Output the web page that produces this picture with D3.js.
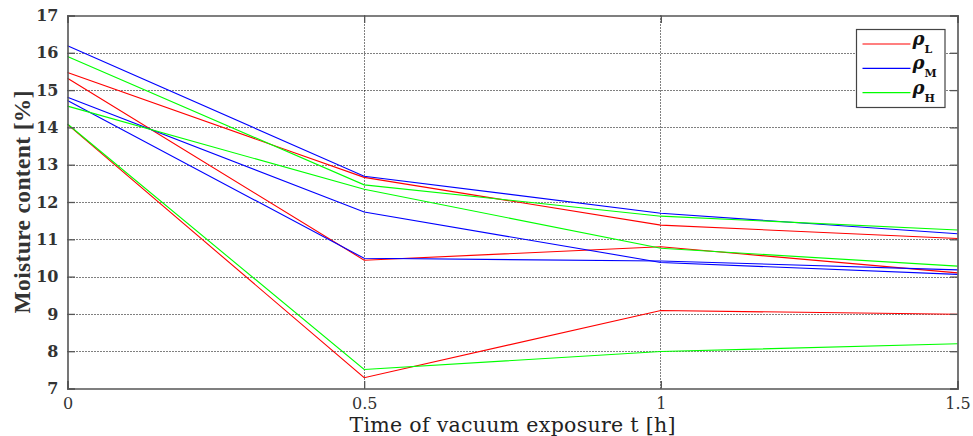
<!DOCTYPE html>
<html>
<head>
<meta charset="utf-8">
<script src="https://cdn.jsdelivr.net/npm/d3@7"></script>
<style>
  body { margin: 0; background: #fff; }
  text { font-family: "Liberation Serif", "DejaVu Serif", serif; }
</style>
</head>
<body>
<div id="chart"></div>
<script>
// time points [h]
var times = [0, 0.5, 1, 1.5];

// moisture content [%], three samples per density class
var rhoL = [
  [15.47, 12.66, 11.38, 11.02],
  [15.32, 10.44, 10.80, 10.10],
  [14.08, 7.29, 9.09, 8.99]
];
var rhoM = [
  [16.19, 12.69, 11.70, 11.15],
  [14.81, 11.73, 10.38, 10.06],
  [14.72, 10.49, 10.42, 10.18]
];
var rhoH = [
  [15.90, 12.46, 11.62, 11.25],
  [14.57, 12.34, 10.76, 10.28],
  [14.09, 7.51, 7.99, 8.20]
];

var seriesNames = ["L", "M", "H"];
var seriesColors = ["#ff0000", "#0000ff", "#00ff00"];
var xTicks = [0, 0.5, 1, 1.5];
var yTicks = [7, 8, 9, 10, 11, 12, 13, 14, 15, 16, 17];

var W = 973, H = 436;
var margin = {top: 15.5, right: 15.5, bottom: 47.5, left: 67.5},
    width = W - margin.left - margin.right,
    height = H - margin.top - margin.bottom;

var svg = d3.select("#chart")
  .append("svg")
    .attr("width", W)
    .attr("height", H);

var g = svg.append("g")
    .attr("transform", "translate(" + margin.left + "," + margin.top + ")");

var x = d3.scaleLinear().domain([0, 1.5]).range([0, width]);
var y = d3.scaleLinear().domain([7, 17]).range([height, 0]);

// dotted grid
g.append("g")
  .selectAll("line")
  .data(yTicks.slice(1, -1))
  .enter().append("line")
    .attr("x1", 0).attr("x2", width)
    .attr("y1", function(d) { return Math.round(y(d) + margin.top) - margin.top + 0.5; })
    .attr("y2", function(d) { return Math.round(y(d) + margin.top) - margin.top + 0.5; })
    .attr("stroke", "#000")
    .attr("stroke-width", 1)
    .attr("stroke-dasharray", "1,2");

g.append("g")
  .selectAll("line")
  .data(xTicks.slice(1, -1))
  .enter().append("line")
    .attr("y1", 0).attr("y2", height)
    .attr("x1", function(d) { return Math.round(x(d)); })
    .attr("x2", function(d) { return Math.round(x(d)); })
    .attr("stroke", "#000")
    .attr("stroke-width", 1)
    .attr("stroke-dasharray", "1,2");

// data lines
var line = d3.line()
  .x(function(d, i) { return x(times[i]); })
  .y(function(d) { return y(d); });

var allSeries = [rhoL, rhoM, rhoH];
allSeries.forEach(function(group, k) {
  g.append("g")
    .selectAll("path")
    .data(group)
    .enter().append("path")
      .attr("d", line)
      .attr("fill", "none")
      .attr("stroke", seriesColors[k])
      .attr("stroke-width", 1.1);
});

// axes (box with inward ticks, matlab style)
var axisColor = "#555";
var yLeft = d3.axisLeft(y).tickValues(yTicks).tickSize(-7.5).tickPadding(9).tickFormat(d3.format("d"));
var yRight = d3.axisRight(y).tickValues(yTicks).tickSize(-7.5).tickFormat("");
var xBottom = d3.axisBottom(x).tickValues(xTicks).tickSize(-7.5).tickPadding(9).tickFormat(d3.format("~g"));
var xTop = d3.axisTop(x).tickValues(xTicks).tickSize(-7.5).tickFormat("");

function styleAxis(sel, weight) {
  sel.selectAll(".domain").attr("stroke", axisColor).attr("stroke-width", 1.6);
  sel.selectAll(".tick line").attr("stroke", axisColor).attr("stroke-width", 1.3);
  sel.selectAll(".tick text")
    .attr("fill", "#333")
    .style("font-family", '"DejaVu Serif", serif')
    .style("font-size", "16px")
    .style("font-weight", weight);
}

g.append("g").call(yLeft).call(styleAxis, "bold");
g.append("g").attr("transform", "translate(" + width + ",0)").call(yRight).call(styleAxis);
g.append("g").attr("transform", "translate(0," + height + ")").call(xBottom).call(styleAxis, "normal");
g.append("g").call(xTop).call(styleAxis);

// axis labels
svg.append("text")
  .attr("x", margin.left + width / 2)
  .attr("y", 432)
  .attr("text-anchor", "middle")
  .attr("fill", "#222")
  .attr("textLength", 326)
  .attr("lengthAdjust", "spacing")
  .style("font-family", '"DejaVu Serif", serif')
  .style("font-size", "20.5px")
  .text("Time of vacuum exposure t [h]");

svg.append("text")
  .attr("transform", "translate(29.5," + (margin.top + height / 2) + ") rotate(-90)")
  .attr("text-anchor", "middle")
  .attr("fill", "#333")
  .attr("textLength", 223)
  .attr("lengthAdjust", "spacing")
  .style("font-size", "23.5px")
  .style("font-weight", "bold")
  .text("Moisture content [%]");

// legend
var legend = svg.append("g").attr("transform", "translate(856.5,29.5)");
legend.append("rect")
  .attr("width", 88.5).attr("height", 78)
  .attr("fill", "#fff")
  .attr("stroke", "#444")
  .attr("stroke-width", 1.2);

seriesNames.forEach(function(name, i) {
  var ly = 14.5 + i * 24.3;
  legend.append("line")
    .attr("x1", 6).attr("x2", 54)
    .attr("y1", ly).attr("y2", ly)
    .attr("stroke", seriesColors[i])
    .attr("stroke-width", 1.2);
  var t = legend.append("text")
    .attr("x", 56).attr("y", ly + 1)
    .attr("fill", "#111")
    .style("font-family", '"DejaVu Serif", serif')
    .style("font-weight", "bold");
  t.append("tspan").style("font-style", "italic").style("font-size", "18px").text("ρ");
  t.append("tspan").attr("dy", 8).style("font-size", "11px").text(name);
});
</script>
</body>
</html>
